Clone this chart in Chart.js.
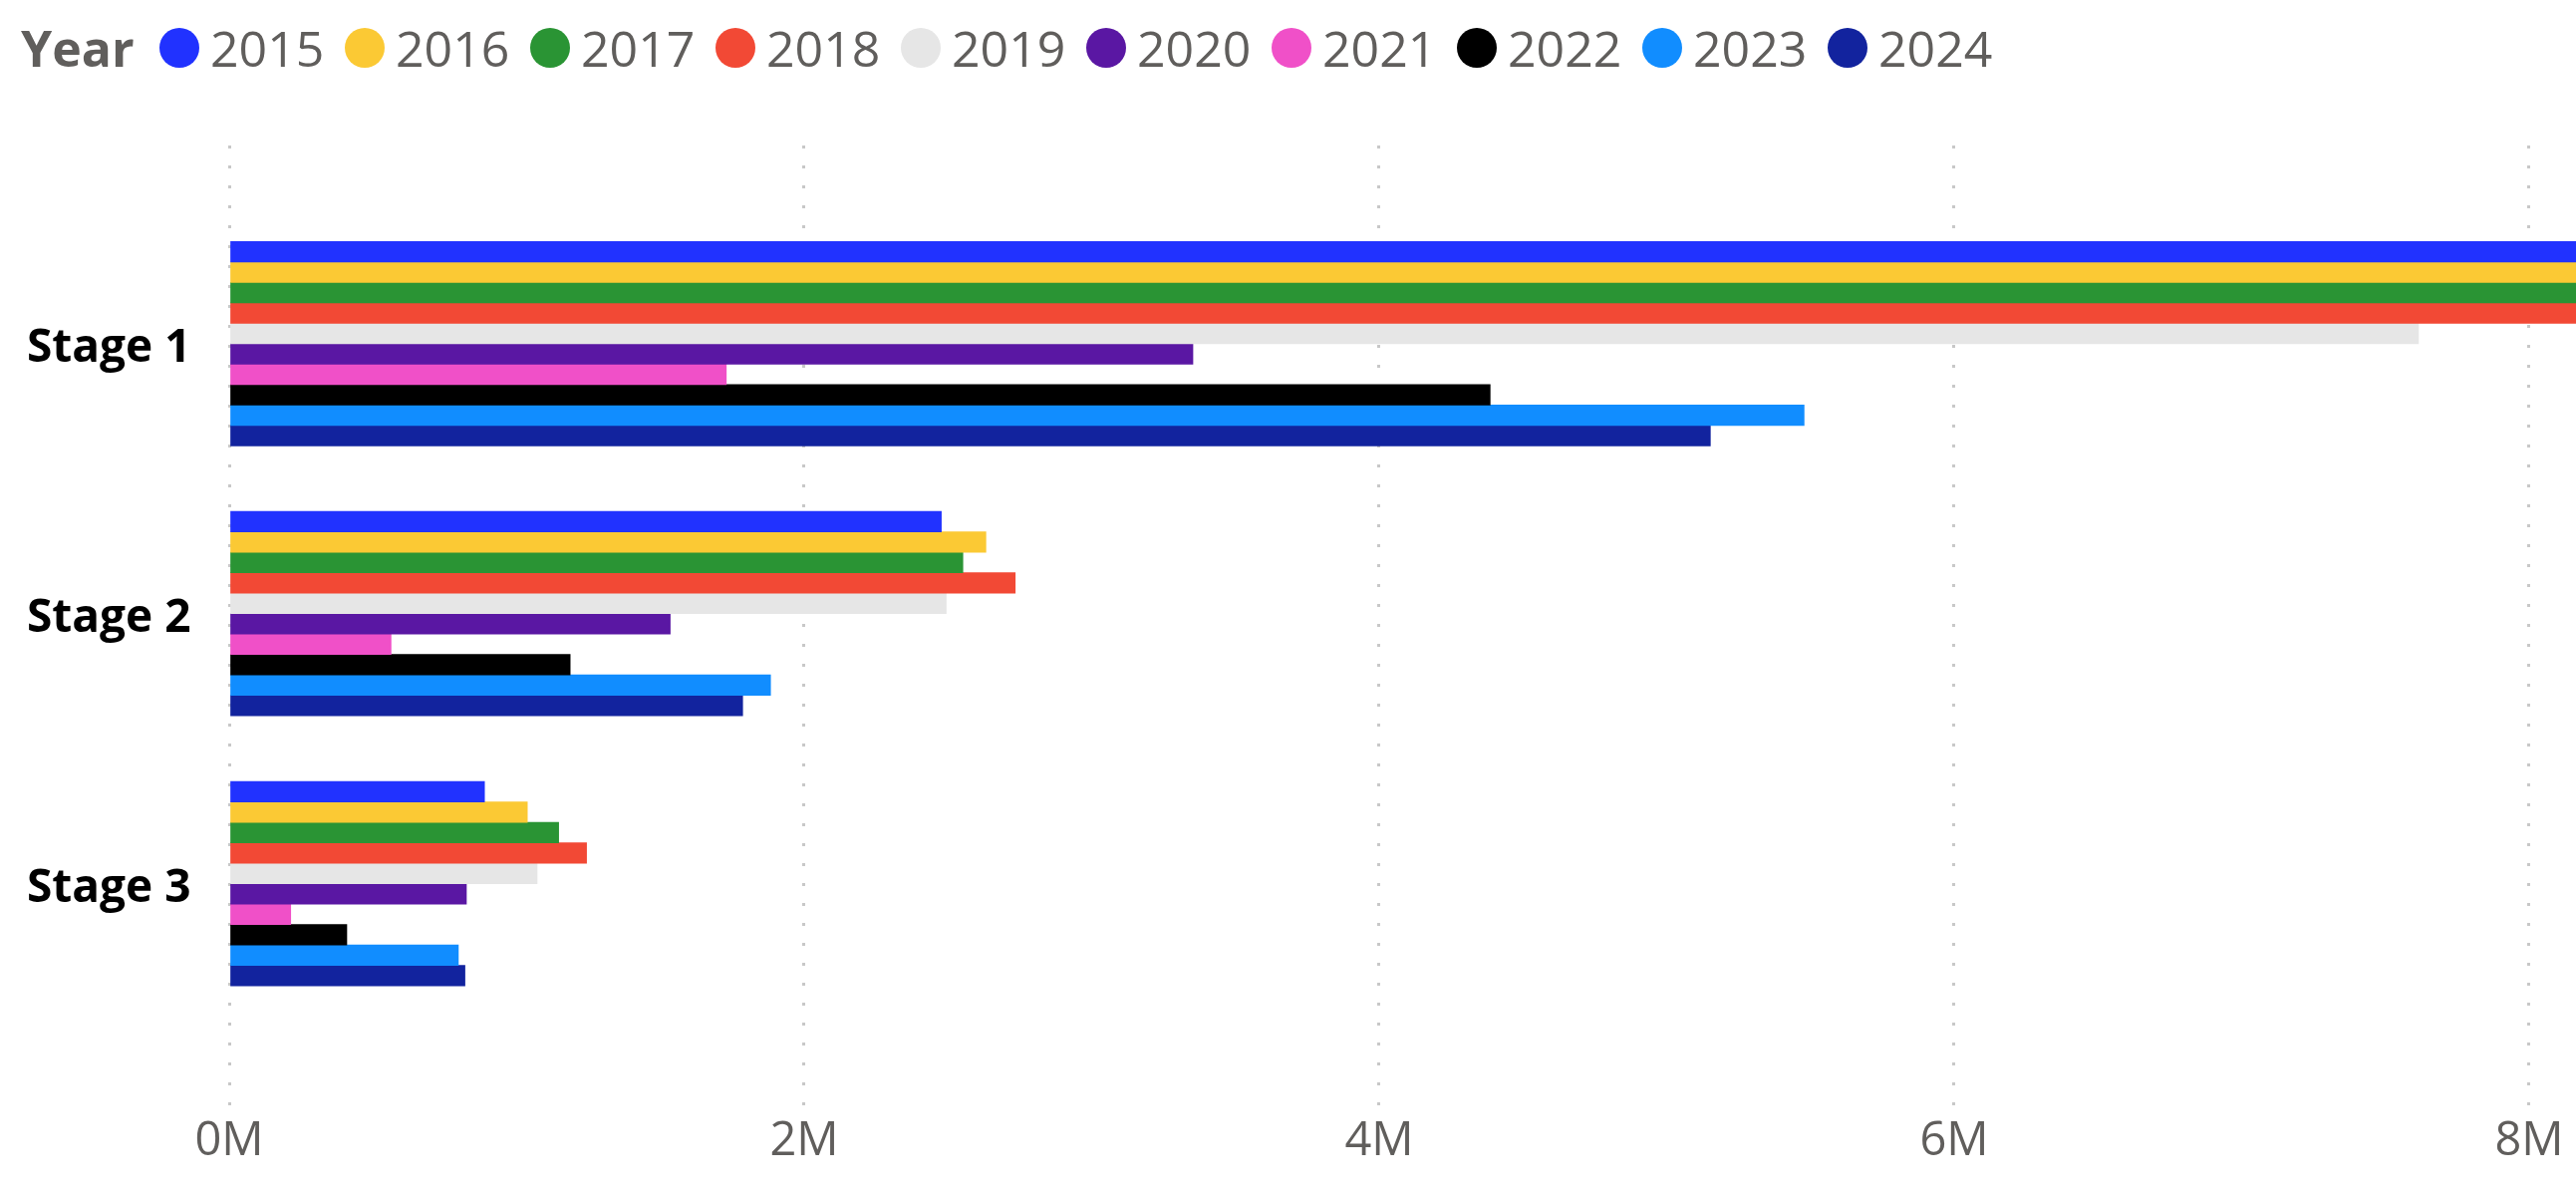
<!DOCTYPE html>
<html>
<head>
<meta charset="utf-8">
<script src="https://cdn.jsdelivr.net/npm/chart.js@4.4.1/dist/chart.umd.min.js"></script>
<style>
  html, body { margin: 0; padding: 0; background: #ffffff; }
  #wrap { position: relative; width: 2585px; height: 1200px; overflow: hidden; }
  #chart { position: absolute; left: 0; top: 0; }
  #legend { position: absolute; left: 21px; top: 0; height: 96px; display: flex; align-items: center;
            font-family: "Segoe UI", "Open Sans", sans-serif; color: #605E5C; font-size: 50px; white-space: nowrap; }
  #legend .title { font-weight: bold; width: 139px; }
  #legend .item { display: flex; align-items: center; width: 186px; }
  #legend .dot { width: 40px; height: 40px; border-radius: 50%; margin-right: 11px; flex: none; }
</style>
</head>
<body>
<div id="wrap">
  <canvas id="chart" width="2585" height="1200"></canvas>
  <div id="legend"></div>
</div>
<script>
// ---- data ----
const stages = ["Stage 1", "Stage 2", "Stage 3"];
const years = ["2015", "2016", "2017", "2018", "2019", "2020", "2021", "2022", "2023", "2024"];
const s2015 = [9.0e6, 2.477e6, 0.888e6];
const s2016 = [9.4e6, 2.632e6, 1.037e6];
const s2017 = [9.2e6, 2.552e6, 1.146e6];
const s2018 = [9.6e6, 2.734e6, 1.243e6];
const s2019 = [7.615e6, 2.494e6, 1.071e6];
const s2020 = [3.352e6, 1.534e6, 0.825e6];
const s2021 = [1.729e6, 0.563e6, 0.214e6];
const s2022 = [4.386e6, 1.186e6, 0.409e6];
const s2023 = [5.478e6, 1.883e6, 0.797e6];
const s2024 = [5.152e6, 1.786e6, 0.820e6];
const seriesValues = [s2015, s2016, s2017, s2018, s2019, s2020, s2021, s2022, s2023, s2024];
const xTicks = [0, 2e6, 4e6, 6e6, 8e6];

// ---- styles ----
const colors = ["#2132FF", "#FBC934", "#2A9434", "#F24935", "#E6E6E6", "#5A17A3", "#F050C8", "#000000", "#118DFF", "#12239E"];

// ---- legend (HTML) ----
const legend = document.getElementById("legend");
const t = document.createElement("div"); t.className = "title"; t.textContent = "Year"; legend.appendChild(t);
years.forEach((y, i) => {
  const it = document.createElement("div"); it.className = "item";
  const d = document.createElement("div"); d.className = "dot"; d.style.background = colors[i];
  const s = document.createElement("span"); s.textContent = y;
  it.appendChild(d); it.appendChild(s); legend.appendChild(it);
});

const datasets = years.map((y, i) => ({
  label: y,
  data: seriesValues[i].map((v, k) => ({ x: v, y: k })),
  backgroundColor: colors[i],
  borderWidth: 0,
  barThickness: 20.5,
  grouped: true
}));

new Chart(document.getElementById("chart"), {
  type: "bar",
  data: { datasets },
  options: {
    indexAxis: "y",
    responsive: false,
    animation: false,
    devicePixelRatio: 1,
    layout: { padding: { top: 146, left: 27, right: 0, bottom: 20 } },
    plugins: { legend: { display: false }, tooltip: { enabled: false } },
    scales: {
      x: {
        type: "linear",
        min: 0,
        max: 8.163e6,
        afterBuildTicks: (scale) => { scale.ticks = xTicks.map(v => ({ value: v })); },
        ticks: {
          includeBounds: false,
          padding: 6.5,
          color: "#605E5C",
          font: { family: "'Segoe UI', 'Open Sans', sans-serif", size: 47 },
          callback: (v) => (v / 1e6) + "M"
        },
        grid: { color: "#C8C8C8", lineWidth: 3, drawTicks: false },
        border: { display: false, dash: [3, 17] }
      },
      y: {
        type: "linear",
        reverse: true,
        offset: false,
        min: -0.734,
        max: 2.827,
        afterBuildTicks: (scale) => { scale.ticks = stages.map((s, i) => ({ value: i })); },
        afterFit: (scale) => { scale.width = 203; },
        ticks: {
          includeBounds: false,
          crossAlign: "far",
          labelOffset: 5,
          color: "#000000",
          font: { family: "'Segoe UI', 'Open Sans', sans-serif", size: 46, weight: "bold" },
          callback: (v) => stages[v] !== undefined ? stages[v] : ""
        },
        grid: { display: false, offset: false },
        border: { display: false }
      }
    }
  }
});
</script>
</body>
</html>
